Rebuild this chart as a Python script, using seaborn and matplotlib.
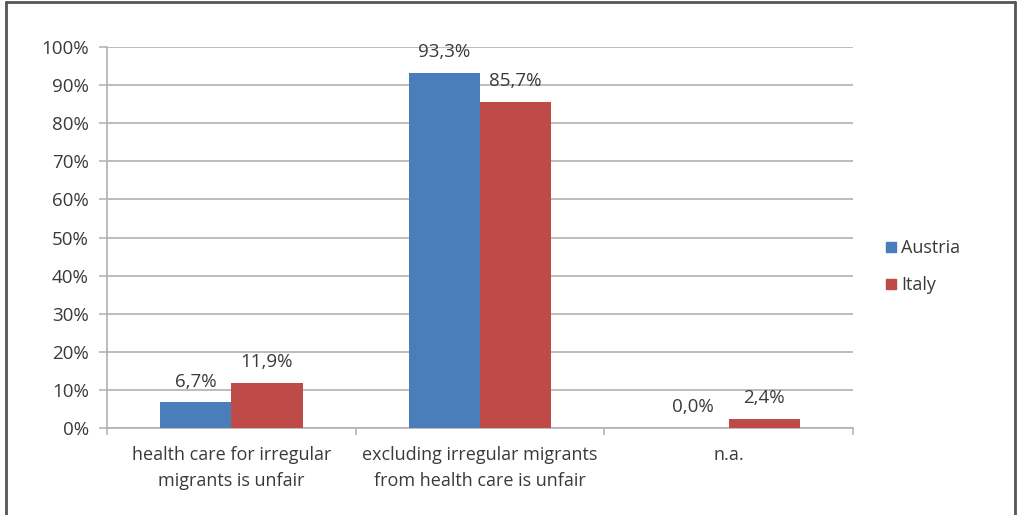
import matplotlib
matplotlib.use("Agg")
import matplotlib.pyplot as plt
from matplotlib.lines import Line2D
from matplotlib.ticker import FixedLocator, PercentFormatter
import pandas as pd
import seaborn as sns

categories = [
    "health care for irregular\nmigrants is unfair",
    "excluding irregular migrants\nfrom health care is unfair",
    "n.a.",
]
countries = ["Austria", "Italy"]
austria = [6.7, 93.3, 0.0]
italy = [11.9, 85.7, 2.4]
colors = ["#4A7EBB", "#BE4B48"]

df = pd.DataFrame({
    "category": categories * 2,
    "country": ["Austria"] * 3 + ["Italy"] * 3,
    "share": austria + italy,
})

sns.set_theme(style="white")
plt.rcParams["font.family"] = ["Open Sans", "DejaVu Sans"]
text_color = "#3A3A3A"
grid_color = "#B5AFAF"

fig = plt.figure(figsize=(10.17, 5.15), dpi=100)
ax = fig.add_axes([0.1052, 0.1689, 0.7335, 0.7398])

sns.barplot(data=df, x="category", y="share", hue="country",
            palette=colors, width=0.573, saturation=1, ax=ax,
            legend=False, zorder=3, linewidth=0, edgecolor="none")

ax.set_ylim(0, 100)
ax.set_xlim(-0.5, 2.5)
ax.yaxis.set_major_locator(FixedLocator(range(0, 101, 10)))
ax.yaxis.set_major_formatter(PercentFormatter(decimals=0))
ax.grid(axis="y", color=grid_color, linewidth=1.2, zorder=0)
ax.set_xlabel("")
ax.set_ylabel("")

# boundary ticks between categories, labels on minor ticks at centers
ax.xaxis.set_major_locator(FixedLocator([-0.5, 0.5, 1.5, 2.5]))
ax.xaxis.set_minor_locator(FixedLocator([0, 1, 2]))
ax.set_xticklabels([""] * 4)
ax.set_xticklabels(categories, minor=True, linespacing=1.55)
ax.tick_params(axis="x", which="major", length=5, width=1.1,
               color=grid_color, direction="out", bottom=True)
ax.tick_params(axis="x", which="minor", length=0, pad=13,
               labelsize=13, labelcolor=text_color)
ax.tick_params(axis="y", length=6, width=1.1, color=grid_color,
               direction="out", left=True, labelsize=13.5,
               labelcolor=text_color, pad=7)

for side in ["top", "right"]:
    ax.spines[side].set_visible(False)
ax.spines["left"].set_color(grid_color)
ax.spines["bottom"].set_color(grid_color)
ax.spines["left"].set_linewidth(1.2)
ax.spines["bottom"].set_linewidth(1.2)

# value labels above each bar
for container in ax.containers:
    for bar in container:
        h = bar.get_height()
        ax.annotate(f"{h:.1f}".replace(".", ",") + "%",
                    (bar.get_x() + bar.get_width() / 2, h),
                    xytext=(0, 15), textcoords="offset points",
                    ha="center", va="center", fontsize=13.5,
                    color=text_color)

handles = [Line2D([0], [0], marker="s", linestyle="", markersize=7,
                  markerfacecolor=c, markeredgecolor=c) for c in colors]
fig.legend(handles, countries, loc="center left",
           bbox_to_anchor=(0.849, 0.482), frameon=False, fontsize=13,
           labelcolor=text_color, handletextpad=0.0, labelspacing=1.05,
           handlelength=1.2)

# frame around the figure (no bottom edge)
frame_kw = dict(color="#555555", linewidth=2, transform=fig.transFigure)
fig.add_artist(Line2D([0.006, 0.006], [0, 0.996], **frame_kw))
fig.add_artist(Line2D([0.998, 0.998], [0, 0.996], **frame_kw))
fig.add_artist(Line2D([0.006, 0.998], [0.996, 0.996], **frame_kw))

fig.savefig("out.png", dpi=100)
